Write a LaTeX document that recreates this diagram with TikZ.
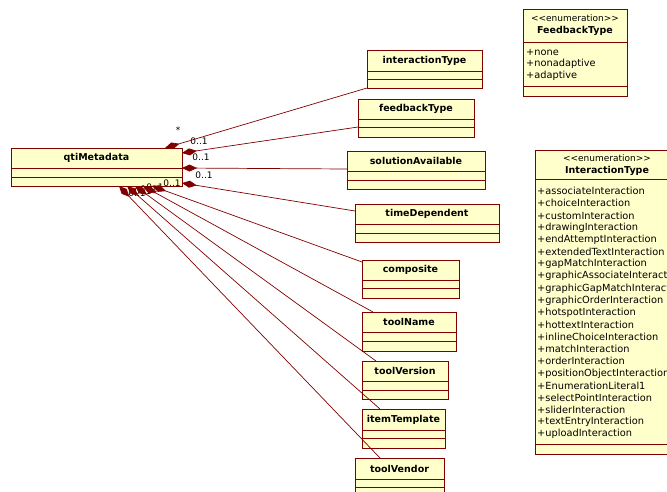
\documentclass[tikz,border=0pt]{standalone}
\usepackage{fontspec}
\setmainfont{DejaVu Sans}
\usetikzlibrary{arrows.meta,calc,positioning}
\definecolor{umlred}{RGB}{128,0,0}
\definecolor{umlfill}{RGB}{255,255,204}

\begin{document}
\begin{tikzpicture}[x=1pt,y=-1pt,
  classbox/.style={draw=umlred, fill=umlfill, line width=0.8pt, inner sep=0pt, anchor=north west},
  classrule/.style={draw=umlred, line width=0.8pt},
  classname/.style={font=\bfseries\fontsize{9.5}{11}\selectfont, inner sep=0pt},
  stereo/.style={font=\fontsize{9}{11}\selectfont, inner sep=0pt},
  attr/.style={font=\fontsize{9.8}{12}\selectfont, anchor=west, inner sep=0pt},
  mult/.style={font=\fontsize{9}{10}\selectfont, inner sep=0pt},
  comp/.style={draw=umlred, line width=0.7pt, {Diamond[length=15pt,width=7pt]}-}]
\useasboundingbox (0,0) rectangle (667,491);
\clip (0,0) rectangle (667,491);

% Classes
\foreach \n/\xa/\ya/\xb/\yb/\da/\db in {qtiMetadata/11/148/182/186/168/177,
    interactionType/367/50/482/88/71/79, feedbackType/358/99/474/137/119/127,
    solutionAvailable/347/151/485/189/171/180, timeDependent/355/204/499/242/224/233,
    composite/362/260/459/298/280/288, toolName/362/312/456/351/332/341,
    toolVersion/362/361/448/399/381/390, itemTemplate/362/409/445/448/430/438,
    toolVendor/355/458/444/497/479/487} {
  \node[classbox, minimum width=\xb-\xa, minimum height=\yb-\ya] (\n) at (\xa,\ya) {};
  \draw[classrule] (\xa,\da) -- (\xb,\da) (\xa,\db) -- (\xb,\db);
  \node[classname] at ({(\xa+\xb)/2},{(\ya+\da)/2}) {\n};
}

% Enumerations
\node[classbox, minimum width=104, minimum height=87] (FeedbackType) at (523,9) {};
\draw[classrule] (523,42) -- (627,42) (523,86) -- (627,86);
\node[stereo] at (575,18) {\textless\kern0pt\textless enumeration\textgreater\kern0pt\textgreater};
\node[classname] at (575,31) {FeedbackType};
\foreach \a [count=\i] in {none, nonadaptive, adaptive}
  \node[attr] at (526,{40+\i*12}) {+\a};

\node[classbox, minimum width=144, minimum height=304] (InteractionType) at (535,150) {};
\draw[classrule] (535,179) -- (679,179) (535,444) -- (679,444);
\node[stereo] at (607,158) {\textless\kern0pt\textless enumeration\textgreater\kern0pt\textgreater};
\node[classname] at (607,171) {InteractionType};
\foreach \a [count=\i] in {associateInteraction, choiceInteraction, customInteraction,
    drawingInteraction, endAttemptInteraction, extendedTextInteraction,
    gapMatchInteraction, graphicAssociateInteraction, graphicGapMatchInteraction,
    graphicOrderInteraction, hotspotInteraction, hottextInteraction,
    inlineChoiceInteraction, matchInteraction, orderInteraction,
    positionObjectInteraction, EnumerationLiteral1, selectPointInteraction,
    sliderInteraction, textEntryInteraction, uploadInteraction}
  \node[attr] at (537,{179+\i*12.15}) {+\a};

% Multiplicities
\node[mult] at (178,130) {*};
\foreach \x/\y in {199/141, 201/157, 204/175, 172/183, 155/187, 149/189, 143/191, 137/193}
  \node[mult] at (\x,\y) {0..1};

% Compositions
\foreach \n/\sx/\sy/\ex/\ey in {interactionType/154/0/0/38, feedbackType/171/5/0/28,
    solutionAvailable/171/20/0/18, timeDependent/171/35/0/7, composite/141/38/0/2,
    toolName/132/38/11/0, toolVersion/124/38/14/0, itemTemplate/116/38/18/0,
    toolVendor/108/38/25/0}
  \draw[comp] ($(qtiMetadata.north west)+(\sx,\sy)$) -- ($(\n.north west)+(\ex,\ey)$);
\end{tikzpicture}
\end{document}
